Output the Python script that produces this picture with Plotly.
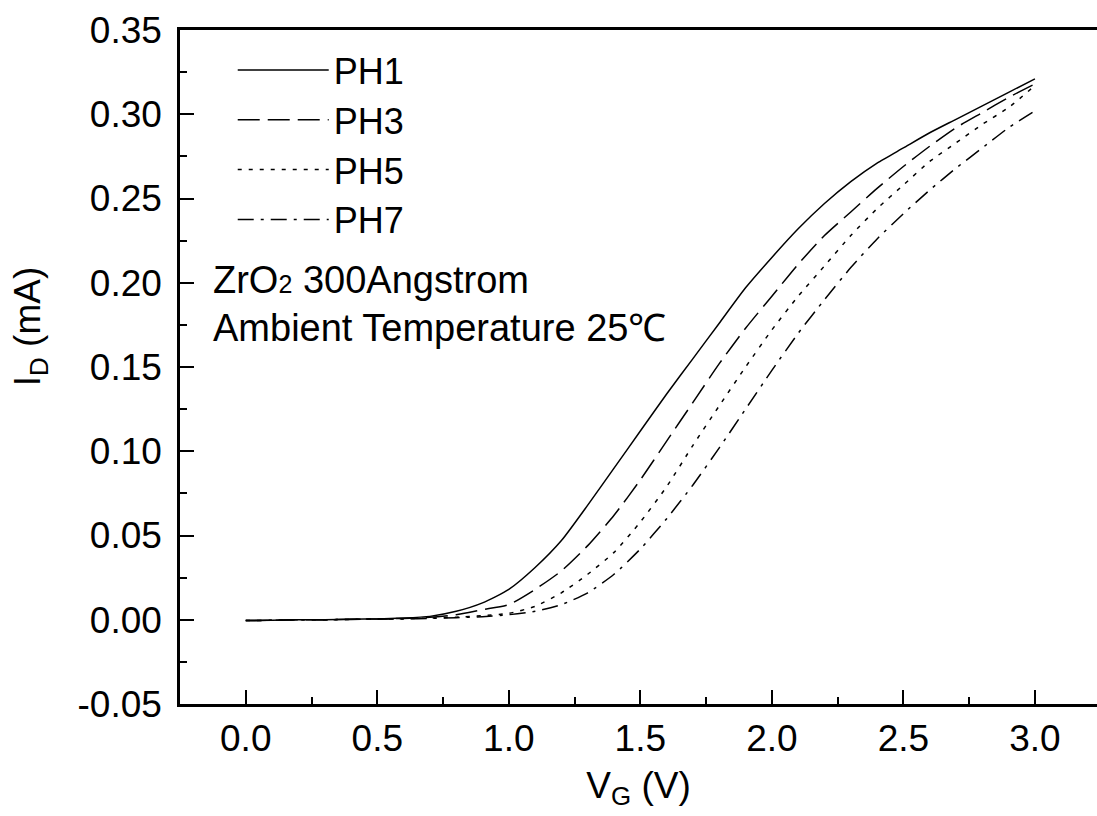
import plotly.graph_objects as go

vg = [0.0, 0.1, 0.2, 0.3, 0.4, 0.5, 0.6, 0.7, 0.8, 0.9, 1.0, 1.1, 1.2, 1.3, 1.4, 1.5,
      1.6, 1.7, 1.8, 1.9, 2.0, 2.1, 2.2, 2.3, 2.4, 2.5, 2.6, 2.7, 2.8, 2.9, 3.0]

ph1 = [-0.0005, -0.0003, 0.0, 0.0, 0.0003, 0.0005, 0.001, 0.002, 0.005, 0.010, 0.018,
       0.031, 0.047, 0.068, 0.090, 0.112, 0.134, 0.155, 0.176, 0.197, 0.215, 0.232,
       0.247, 0.260, 0.271, 0.280, 0.289, 0.297, 0.305, 0.313, 0.321]
ph3 = [-0.0005, -0.0003, 0.0, 0.0, 0.0003, 0.0005, 0.0008, 0.0015, 0.003, 0.006, 0.009,
       0.018, 0.029, 0.044, 0.062, 0.083, 0.106, 0.129, 0.152, 0.173, 0.192, 0.211,
       0.228, 0.242, 0.256, 0.269, 0.281, 0.292, 0.301, 0.310, 0.318]
ph5 = [-0.0005, -0.0003, 0.0, 0.0, 0.0002, 0.0004, 0.0006, 0.001, 0.0015, 0.0025, 0.0038,
       0.008, 0.016, 0.027, 0.040, 0.058, 0.079, 0.1035, 0.127, 0.150, 0.172, 0.192,
       0.210, 0.228, 0.244, 0.258, 0.272, 0.283, 0.294, 0.304, 0.317]
ph7 = [-0.0005, -0.0003, 0.0, 0.0, 0.0002, 0.0003, 0.0005, 0.0008, 0.0012, 0.0018, 0.003,
       0.005, 0.009, 0.016, 0.027, 0.042, 0.060, 0.080, 0.102, 0.125, 0.148, 0.170,
       0.190, 0.209, 0.226, 0.241, 0.255, 0.268, 0.280, 0.292, 0.302]

names = ["PH1", "PH3", "PH5", "PH7"]
series = [ph1, ph3, ph5, ph7]
dashes = ["solid", "22px,8px", "4px,7px", "16px,7px,3px,7px"]

x_tickvals = [0.0, 0.5, 1.0, 1.5, 2.0, 2.5, 3.0]
x_ticktext = ["0.0", "0.5", "1.0", "1.5", "2.0", "2.5", "3.0"]
y_tickvals = [-0.05, 0.0, 0.05, 0.10, 0.15, 0.20, 0.25, 0.30, 0.35]
y_ticktext = ["-0.05", "0.00", "0.05", "0.10", "0.15", "0.20", "0.25", "0.30", "0.35"]

FONT = "Liberation Sans, Arial, sans-serif"
FS = 37

fig = go.Figure()
for name, ys, dash in zip(names, series, dashes):
    fig.add_trace(go.Scatter(
        x=vg, y=ys, name=name, mode="lines",
        line=dict(color="black", width=1.5, dash=dash, shape="spline", smoothing=0.6),
    ))

fig.update_layout(
    width=1097, height=816,
    margin=dict(l=180, r=0, t=30, b=112),
    paper_bgcolor="white", plot_bgcolor="white",
    font=dict(family=FONT, size=FS, color="black"),
    showlegend=True,
    legend=dict(
        x=0.0575, y=0.985, xanchor="left", yanchor="top",
        bgcolor="rgba(0,0,0,0)", borderwidth=0,
        font=dict(family=FONT, size=36, color="black"),
        itemwidth=91, tracegroupgap=0,
    ),
    xaxis=dict(
        range=[-0.25, 3.236], showgrid=False, zeroline=False,
        showline=True, linecolor="black", linewidth=2.5, mirror=True,
        ticks="inside", ticklen=14, tickwidth=2, tickcolor="black",
        tickmode="array", tickvals=x_tickvals, ticktext=x_ticktext,
        minor=dict(ticks="inside", ticklen=7, tickwidth=2, tickcolor="black",
                   dtick=0.25, tick0=0, showgrid=False),
        tickfont=dict(family=FONT, size=FS),
        title=dict(text="V<sub>G</sub> (V)", font=dict(family=FONT, size=FS), standoff=14),
    ),
    yaxis=dict(
        range=[-0.05, 0.35], showgrid=False, zeroline=False,
        showline=True, linecolor="black", linewidth=2.5, mirror=False,
        ticks="inside", ticklen=14, tickwidth=2, tickcolor="black",
        tickmode="array", tickvals=y_tickvals, ticktext=y_ticktext,
        minor=dict(ticks="inside", ticklen=7, tickwidth=2, tickcolor="black",
                   dtick=0.025, tick0=0, showgrid=False),
        tickfont=dict(family=FONT, size=FS),
        ticklabelstandoff=8,
    ),
    annotations=[
        dict(text="I<sub>D</sub> (mA)", xref="paper", yref="paper",
             x=-0.164, y=0.56, xanchor="center", yanchor="middle",
             textangle=-90, showarrow=False, font=dict(family=FONT, size=FS)),
        dict(text='ZrO<span style="font-size:25px">2</span> 300Angstrom',
             xref="paper", yref="paper",
             x=0.034, y=0.629, xanchor="left", yanchor="middle",
             showarrow=False, font=dict(family=FONT, size=38)),
        dict(text="Ambient Temperature 25℃", xref="paper", yref="paper",
             x=0.034, y=0.558, xanchor="left", yanchor="middle",
             showarrow=False, font=dict(family=FONT, size=38)),
    ],
)

fig.write_html(
    "out.html",
    config={"displayModeBar": False},
    post_script="document.body.style.margin='0';document.body.style.overflow='hidden';",
)
